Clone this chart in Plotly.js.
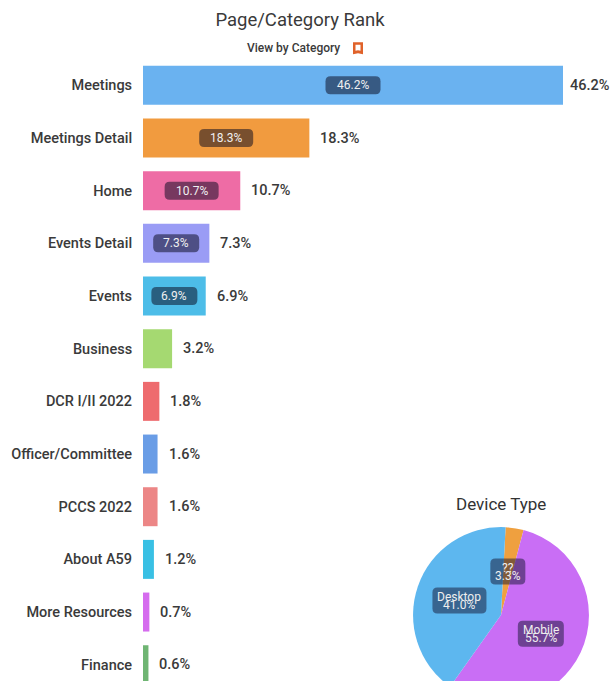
<!DOCTYPE html>
<html><head><meta charset="utf-8">
<script src="https://cdn.plot.ly/plotly-3.0.1.min.js"></script>
<style>html,body{margin:0;padding:0;background:#fff;overflow:hidden;width:610px;height:681px}</style>
</head><body><div id="chart"></div>
<script>
const categories = ["Meetings","Meetings Detail","Home","Events Detail","Events","Business","DCR I/II 2022","Officer/Committee","PCCS 2022","About A59","More Resources","Finance"];
const shares = [46.2,18.3,10.7,7.3,6.9,3.2,1.8,1.6,1.6,1.2,0.7,0.6];
const barColors = ["#6AB2F0","#F19B3F","#EE6CA5","#9A9CF5","#4DBDE8","#A5D971","#EE6B6E","#6A9DE6","#EC8686","#39C0E4","#D56CEE","#6FB573"];
const badgeWidths = [55,54,54,46,46];
const deviceLabels = ["??","Mobile","Desktop"];
const deviceShares = [3.3,55.7,41.0];
const deviceColors = ["#EFA03F","#C96EF5","#5DB7EF"];
const deviceBadgeWidths = [35,46,54];
const pageFont = "Roboto, sans-serif";

// layout geometry (pixels)
const W=610,H=710,L=143,T=58.65,pw=W-L,ph=H-T;
const fx=px=>(px-L)/pw, fy=py=>(H-py)/ph;
const pie={cx:501,cy:615,r:88,rot:3};

function roundRect(w,h,r){const a=w/2,b=h/2;
 return `M${-a+r},${-b} L${a-r},${-b} Q${a},${-b} ${a},${-b+r} L${a},${b-r} Q${a},${b} ${a-r},${b} L${-a+r},${b} Q${-a},${b} ${-a},${b-r} L${-a},${-b+r} Q${-a},${-b} ${-a+r},${-b} Z`;}

const annotations=[],shapes=[];
const paperNote=(px,py,text,font,yshift)=>({x:fx(px),y:fy(py),xref:'paper',yref:'paper',xanchor:'center',yanchor:'middle',text,showarrow:false,yshift:yshift||0,font});

categories.forEach((c,i)=>{
  annotations.push({x:shares[i],y:c,xref:'x',yref:'y',text:shares[i].toFixed(1)+'%',showarrow:false,xanchor:'left',yanchor:'middle',xshift:i===0?5:9,
    font:{family:pageFont,size:14.5,color:'#3a3a3a',weight:500}});
  if(i<badgeWidths.length){
    shapes.push({type:'path',xref:'x',yref:'y',xsizemode:'pixel',ysizemode:'pixel',xanchor:shares[i]/2,yanchor:c,
      path:roundRect(badgeWidths[i],18,5),fillcolor:'rgba(10,10,30,0.52)',line:{width:0}});
    annotations.push({x:shares[i]/2,y:c,xref:'x',yref:'y',xanchor:'center',yanchor:'middle',text:shares[i].toFixed(1)+'%',showarrow:false,
      font:{family:pageFont,size:12,color:'#F0F0F0'}});
  }
});

// device pie badges, placed from the slice mid-angles
let cum=0;
deviceShares.forEach((v,i)=>{
  const mid=(pie.rot+(cum+v/2)*3.6)*Math.PI/180; cum+=v;
  const px=pie.cx+Math.sin(mid)*pie.r*0.5, py=pie.cy-Math.cos(mid)*pie.r*0.5;
  shapes.push({type:'path',xref:'paper',yref:'paper',xsizemode:'pixel',ysizemode:'pixel',xanchor:fx(px),yanchor:fy(py),
    path:roundRect(deviceBadgeWidths[i],26,5),fillcolor:'rgba(20,20,50,0.5)',line:{width:0}});
  const f={family:pageFont,size:12,color:'#EEE'};
  annotations.push(paperNote(px,py,deviceLabels[i],f,4));
  annotations.push(paperNote(px,py,v.toFixed(1)+'%',f,-4));
});

annotations.push(paperNote(293,48,'View by Category',{family:pageFont,size:12,color:'#3a3a3a',weight:500}));
annotations.push(paperNote(501,504,'Device Type',{family:pageFont,size:17,color:'#333'}));
shapes.push({type:'path',xref:'paper',yref:'paper',xsizemode:'pixel',ysizemode:'pixel',xanchor:fx(358),yanchor:fy(48),
  path:'M-5,6 L5,6 L5,-6 L0,-5 L-5,-6 Z M-2.5,3.5 L-2.5,-2.5 L0,-2 L2.5,-2.5 L2.5,3.5 Z',fillcolor:'#E0622A',line:{width:0}});

const data=[
 {type:'bar',orientation:'h',y:categories,x:shares,width:0.74,marker:{color:barColors,line:{width:0}},hoverinfo:'none',showlegend:false},
 {type:'pie',labels:deviceLabels,values:deviceShares,marker:{colors:deviceColors,line:{width:0}},sort:false,direction:'clockwise',rotation:pie.rot,textinfo:'none',hoverinfo:'none',showlegend:false,
  domain:{x:[fx(pie.cx-pie.r),fx(pie.cx+pie.r)],y:[fy(pie.cy+pie.r),fy(pie.cy-pie.r)]}}
];
const layout={width:W,height:H,margin:{l:L,r:0,t:T,b:0,pad:0},paper_bgcolor:'#fff',plot_bgcolor:'#fff',showlegend:false,
 font:{family:pageFont,color:'#333'},
 title:{text:'Page/Category Rank',x:300/W,xanchor:'center',y:1-20/H,yanchor:'middle',font:{family:pageFont,size:18.5,color:'#3a3a3a'}},
 xaxis:{range:[0,pw/(420/46.2)],visible:false,fixedrange:true},
 yaxis:{type:'category',categoryorder:'array',categoryarray:categories,range:[(H-T)/52.7-0.5,-0.5],showgrid:false,zeroline:false,showline:false,
   ticks:'outside',ticklen:7,tickcolor:'rgba(0,0,0,0)',tickfont:{family:pageFont,size:14.5,color:'#3a3a3a',weight:500},fixedrange:true},
 annotations,shapes};
Plotly.newPlot('chart',data,layout,{displayModeBar:false,staticPlot:true});
</script></body></html>
